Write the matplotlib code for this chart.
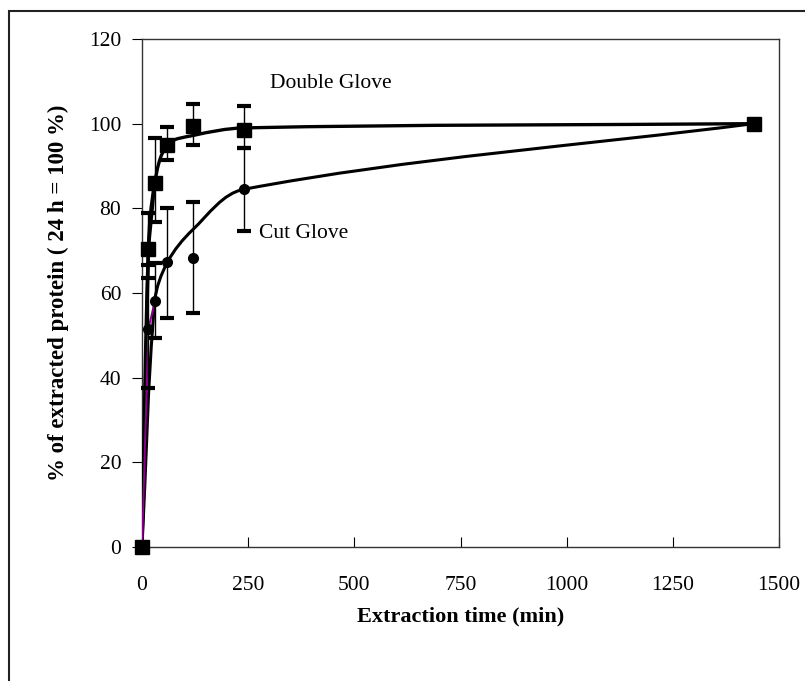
import matplotlib
matplotlib.use('Agg')
import matplotlib.pyplot as plt
from matplotlib.path import Path
from matplotlib.patches import PathPatch, Rectangle
import numpy as np

# Extraction times (min)
TIMES = [0, 15, 30, 60, 120, 240, 1440]

# Double glove: mean % extracted and error bar extents
DOUBLE_MEAN = [0, 70.5, 86, 95, 99.5, 98.5, 100]
DOUBLE_ERR_LO = [0, 7, 9.3, 3.7, 4.6, 4.3, 0]
DOUBLE_ERR_HI = [0, 8.3, 10.7, 4.3, 5.1, 5.7, 0]
DOUBLE_CURVE = [0, 70.5, 86, 95, 97.2, 99, 100]

# Cut glove (no measured point at 24 h other than the reference)
CUT_TIMES = [0, 15, 30, 60, 120, 240]
CUT_MEAN = [0, 51.5, 58, 67.3, 68.2, 84.5]
CUT_ERR_LO = [0, 13.9, 8.6, 13.2, 12.9, 9.9]
CUT_ERR_HI = [0, 15, 9, 12.7, 13.2, 9.8]
CUT_CURVE_TIMES = [0, 30, 60, 120, 240, 1440]
CUT_CURVE = [0, 58, 67.3, 75, 84.5, 100]

X_MAX = 1500
Y_MAX = 120
FONT = 'Liberation Serif'


def smooth_path(xs, ys, sx, sy):
    # bezier smoothing in scaled space; tangent from the neighbours,
    # handle length a third of the segment so long spans don't overshoot
    p = np.column_stack([np.asarray(xs, float) / sx, np.asarray(ys, float) / sy])
    n = len(p)
    tangents = []
    for i in range(n):
        d = p[min(i + 1, n - 1)] - p[max(i - 1, 0)]
        tangents.append(d / np.hypot(*d))
    verts = [p[0]]
    codes = [Path.MOVETO]
    for i in range(n - 1):
        seg = np.hypot(*(p[i + 1] - p[i])) / 3.0
        c1 = p[i] + tangents[i] * seg
        c2 = p[i + 1] - tangents[i + 1] * seg
        verts += [c1, c2, p[i + 1]]
        codes += [Path.CURVE4] * 3
    verts = np.array(verts) * [sx, sy]
    return Path(verts, codes)


plt.rcParams['font.family'] = FONT
fig = plt.figure(figsize=(8.05, 6.81), dpi=100)
ax = fig.add_axes([142 / 805, 1 - 547 / 681, 637 / 805, 508 / 681])

# outer frame around the chart area
fig.patches.append(Rectangle((9 / 805, -0.1), 1.2, 1 - 11 / 681 + 0.1,
                             transform=fig.transFigure, fill=False,
                             edgecolor='#222222', linewidth=1.5))

sx = X_MAX / 637.0
sy = Y_MAX / 508.0

ax.add_patch(PathPatch(smooth_path(CUT_CURVE_TIMES, CUT_CURVE, sx, sy),
                       fill=False, edgecolor='black', linewidth=2.2, zorder=3))
ax.add_patch(PathPatch(smooth_path(TIMES, DOUBLE_CURVE, sx, sy),
                       fill=False, edgecolor='black', linewidth=2.4, zorder=3))
ax.plot(TIMES[:3], DOUBLE_MEAN[:3], color='black', linewidth=2.4, zorder=3)

# purple straight segment at the start of the cut glove series
ax.plot(CUT_TIMES[:3], CUT_MEAN[:3], color='#8b008b', linewidth=1.4, zorder=3.5)

ax.errorbar(CUT_TIMES, CUT_MEAN, yerr=[CUT_ERR_LO, CUT_ERR_HI], fmt='o',
            color='black', markersize=7, elinewidth=1, capsize=5, capthick=3,
            zorder=4, clip_on=False)
ax.errorbar(TIMES, DOUBLE_MEAN, yerr=[DOUBLE_ERR_LO, DOUBLE_ERR_HI], fmt='s',
            color='black', markersize=10.5, elinewidth=1, capsize=5, capthick=3,
            zorder=5, clip_on=False)

ax.text(301, 109.4, 'Double Glove', fontsize=15.5, va='center', ha='left')
ax.text(275, 74, 'Cut Glove', fontsize=15.5, va='center', ha='left')

ax.set_xlim(0, X_MAX)
ax.set_ylim(0, Y_MAX)
ax.set_xticks(range(0, 1501, 250))
ax.set_yticks(range(0, 121, 20))
ax.tick_params(axis='x', direction='in', length=7, pad=21, labelsize=15.5)
ax.tick_params(axis='y', direction='out', length=7, pad=8, labelsize=15.5)
for s in ax.spines.values():
    s.set_linewidth(1.0)
    s.set_color('#333333')

ax.set_xlabel('Extraction time (min)', fontsize=16, fontweight='bold', labelpad=8)
ax.set_ylabel('% of extracted protein ( 24 h = 100 %)', fontsize=16.5,
              fontweight='bold', labelpad=14)

fig.savefig('out.png', dpi=100)
